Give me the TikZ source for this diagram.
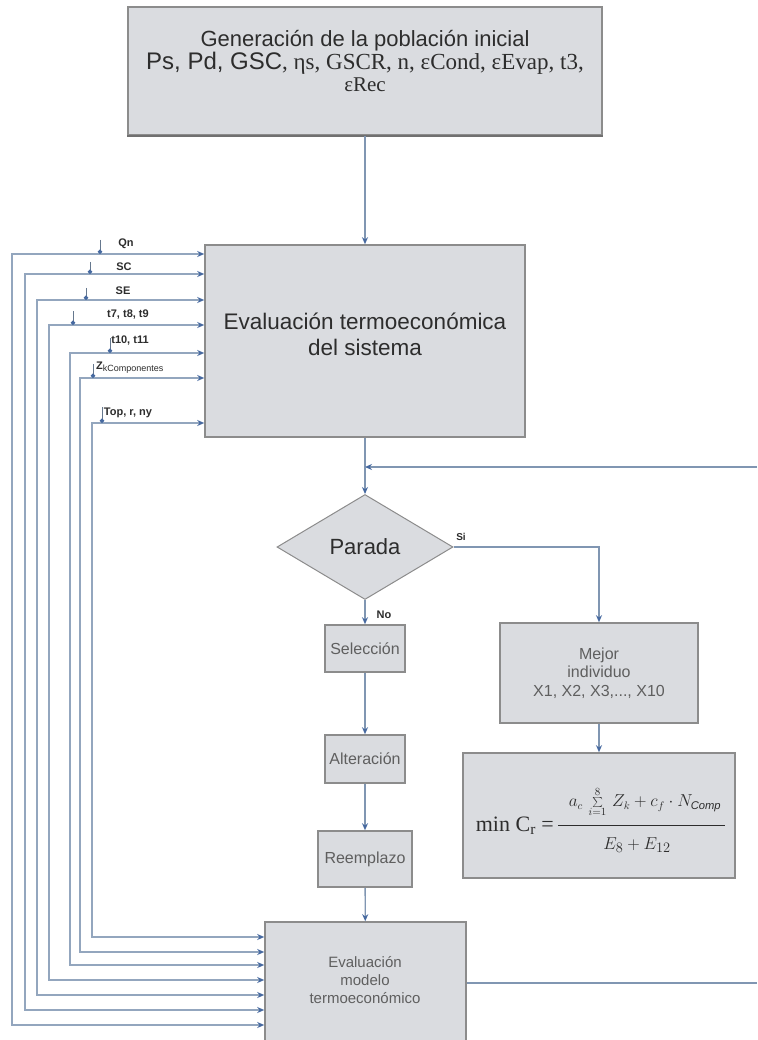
\documentclass[tikz,border=0pt]{standalone}
\usepackage{fontspec}
\setmainfont{Liberation Sans}
\newfontfamily\tms{Liberation Serif}
\usetikzlibrary{arrows.meta,shapes.geometric,calc}
\definecolor{boxfill}{RGB}{218,220,224}
\definecolor{boxline}{RGB}{140,140,140}
\definecolor{lnk}{RGB}{128,150,178}
\definecolor{tip}{RGB}{70,105,160}
\definecolor{txt}{RGB}{45,45,45}
\definecolor{ltxt}{RGB}{95,95,95}
\tikzset{
  box/.style={draw=boxline, fill=boxfill, line width=1.6pt, inner sep=0pt},
  conn/.style={draw=lnk, line width=1.3pt, -{Stealth[length=7pt,width=6pt,color=tip]}},
  plain/.style={draw=lnk, line width=1.3pt},
  inl/.style={draw=lnk!85, line width=1.5pt, {Stealth[length=7pt,width=6pt,color=tip]}-{Stealth[length=7pt,width=6pt,color=tip]}},
  tap/.style={draw=lnk!80!black, line width=0.9pt, -{Circle[length=4.5pt,color=tip]}},
  lab/.style={font=\fontsize{11}{12}\selectfont\bfseries, text=txt, inner sep=0pt},
}
\begin{document}
\begin{tikzpicture}[x=1pt,y=-1pt]
\useasboundingbox (0,0) rectangle (757,1040);
\fill[white] (0,0) rectangle (757,1040);

% boxes
\node[box, minimum width=474pt, minimum height=128pt] (gen) at (365,71) {};
\draw[boxline!80!black, line width=2.2pt] (gen.south west) -- (gen.south east);
\node[align=center, text=txt, font=\fontsize{22}{21.5}\selectfont] (genT) at (365,61)
  {Generación de la población inicial\\
   {\fontsize{24}{21.5}\selectfont Ps, Pd, GSC}{\tms\fontsize{23}{21.5}\selectfont, ηs, GSCR, n, εCond, εEvap, t3,}\\
   {\tms\fontsize{21}{21.5}\selectfont εRec}};

\node[box, minimum width=320pt, minimum height=192pt] (ev) at (365,341) {};
\node[align=center, text=txt, font=\fontsize{22.5}{26}\selectfont] (evT) at (365,334)
  {Evaluación termoeconómica\\del sistema};

\node[box, diamond, aspect=1.68, minimum width=176pt, minimum height=105pt,
      line width=1pt, text=txt, font=\fontsize{22}{24}\selectfont] (par) at (365,547) {Parada};

\node[box, minimum width=80pt, minimum height=47pt, text=ltxt,
      font=\fontsize{16}{18}\selectfont] (sel) at (365,648.5) {Selección};
\node[box, minimum width=80pt, minimum height=48pt, text=ltxt,
      font=\fontsize{16}{18}\selectfont] (alt) at (365,759) {Alteración};
\node[box, minimum width=94pt, minimum height=56pt, text=ltxt,
      font=\fontsize{16}{18}\selectfont] (ree) at (365,859) {Reemplazo};

\node[box, minimum width=201pt, minimum height=130pt] (bm) at (365.5,987) {};
\node[align=center, text=ltxt, font=\fontsize{15}{18}\selectfont] (bmT) at (365,980)
  {Evaluación\\modelo\\termoeconómico};

\node[box, minimum width=198pt, minimum height=100pt, align=center, text=ltxt,
      font=\fontsize{16}{18.5}\selectfont] (mej) at (599,673)
  {Mejor\\individuo\\X1, X2, X3,..., X10};

\node[box, minimum width=272pt, minimum height=125pt] (frm) at (599,815.5) {};
\node[anchor=east, text=txt, font=\tms\fontsize{22}{24}\selectfont, inner sep=0pt] (fmin) at (554,826) {min C\textsubscript{r} =};
\draw[txt, line width=0.9pt] (558,825) -- (725,825);
\node[text=txt, font=\fontsize{16}{18}\selectfont, inner sep=0pt] (fnum) at (645,802)
  {$a_c\,\sum\limits_{i=1}^{8}\, Z_k + c_f\cdot N_{\mathit{Comp}}$};
\node[text=txt, font=\fontsize{19}{22}\selectfont, inner sep=0pt] (fden) at (637,845)
  {$E_8 + E_{12}$};

% junctions
\coordinate (jn) at (365,467);
\coordinate (rin) at (757,467);
\coordinate (rout) at (757,983);

% connectors
\draw[conn] (gen) -- (ev);
\draw[plain] (ev) -- (jn);
\draw[conn] (rin) -- (jn);
\draw[conn] (jn) -- (par);
\draw[conn] (par.east) -| (mej.north);
\draw[conn] (mej) -- (frm);
\draw[conn] (par) -- (sel);
\draw[conn] (sel) -- (alt);
\draw[conn] (alt) -- (ree);
\draw[conn] (ree) -- (bm);
\draw[plain] (bm.east |- rout) -- (rout);

\node[lab, font=\fontsize{10}{11}\selectfont\bfseries] (si) at (461,537) {Si};
\node[lab, font=\fontsize{11}{12}\selectfont\bfseries] (no) at (384,615) {No};

% left input wires
\foreach \i/\yt/\xv/\yb in {1/254/12/1025, 2/274/25/1010, 3/300/37/995, 4/325/49/980,
                             5/353/70/965, 6/378/80/952, 7/423/92/937} {
  \coordinate (wa\i) at (\xv,\yt);
  \coordinate (wb\i) at (\xv,\yb);
  \draw[inl] (ev.west |- wa\i) -- (wa\i) -- (wb\i) -- (bm.west |- wb\i);
}
% taps
\foreach \i/\tx/\ty/\yt in {1/100/240/254, 2/90/262/274, 3/86/288/300, 4/73/311/325,
                             5/110/338/353, 6/93/364/378, 7/102/407/423} {
  \coordinate (tp\i) at (\tx,\yt);
  \coordinate (tq\i) at (\tx,\ty);
  \draw[tap] (tq\i) -- (tp\i);
}
% labels
\node[lab] (lqn) at (126,244) {Qn};
\node[lab] (lsc) at (124,267) {SC};
\node[lab] (lse) at (123,291) {SE};
\node[lab] (lt7) at (128,315) {t7, t8, t9};
\node[lab] (lt10) at (130,341) {t10, t11};
\node[lab, anchor=west] (lz) at (96,368) {Z{\fontsize{9}{10}\selectfont\mdseries\raisebox{-2pt}{kComponentes}}};
\node[lab] (ltop) at (128,413) {Top, r, ny};
\end{tikzpicture}
\end{document}
